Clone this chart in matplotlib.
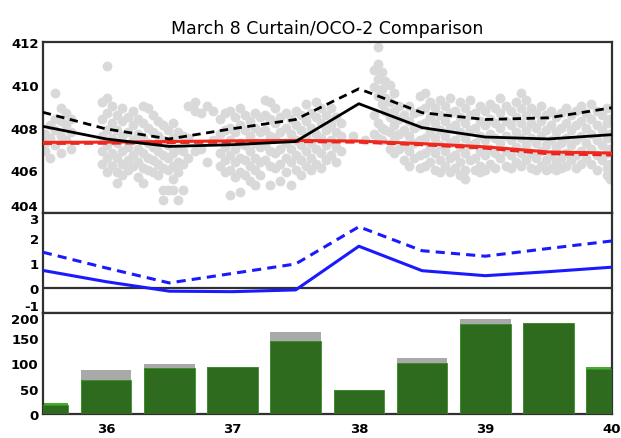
import matplotlib
matplotlib.use("Agg")
import matplotlib.pyplot as plt
import numpy as np

# bin centres (latitude)
lat_bins = [35.5, 36.0, 36.5, 37.0, 37.5, 38.0, 38.5, 39.0, 39.5, 40.0]

# top panel: XCO2 (ppm)
curtain_solid = [408.06, 407.47, 407.12, 407.20, 407.35, 409.12, 408.00, 407.56, 407.47, 407.67]
curtain_dash = [408.72, 407.94, 407.47, 407.95, 408.38, 409.82, 408.70, 408.38, 408.46, 408.93]
oco2_solid = [407.31, 407.32, 407.35, 407.38, 407.40, 407.37, 407.25, 407.10, 406.86, 406.81]
oco2_dash = [407.26, 407.27, 407.30, 407.33, 407.35, 407.32, 407.20, 407.04, 406.78, 406.72]

# middle panel: difference
diff_solid = [0.70, 0.25, -0.13, -0.15, -0.08, 1.67, 0.69, 0.49, 0.65, 0.83]
diff_dash = [1.43, 0.80, 0.20, 0.58, 0.96, 2.45, 1.49, 1.27, 1.58, 1.88]

# bottom panel: sounding counts
count_total = [22, 86, 98, 93, 163, 48, 110, 188, 179, 92]
count_edge = [22, 68, 91, 93, 145, 48, 101, 177, 179, 92]
count_good = [18, 68, 91, 93, 145, 48, 101, 177, 179, 88]

# individual OCO-2 soundings, as (lat, [xco2 ...]) columns
obs_west = [
    (35.52, [407.3, 407.7, 406.9]),
    (35.56, [408.1, 407.5, 406.6]),
    (35.60, [409.6, 408.4, 407.9, 407.2]),
    (35.64, [408.9, 408.3, 407.6, 406.8]),
    (35.68, [408.7, 408.1, 407.4]),
    (35.72, [408.4, 407.8, 407.0]),
    (35.97, [409.2, 408.4, 407.6, 406.9, 406.3]),
    (36.01, [410.9, 409.4, 408.7, 407.9, 407.2, 406.6, 405.9]),
    (36.05, [409.0, 408.2, 407.5, 406.8, 406.2]),
    (36.09, [408.6, 407.9, 407.3, 406.6, 405.9, 405.4]),
    (36.13, [408.9, 408.3, 407.6, 406.9, 406.3, 405.8]),
    (36.17, [408.5, 407.8, 407.1, 406.5, 406.0]),
    (36.21, [408.8, 408.1, 407.4, 406.7, 406.2]),
    (36.25, [408.4, 407.7, 407.0, 406.4, 405.7]),
    (36.29, [409.0, 408.2, 407.5, 406.8, 406.1, 405.4]),
    (36.33, [408.9, 408.0, 407.3, 406.6, 406.0]),
    (36.37, [408.6, 407.8, 407.1, 406.5, 405.9]),
    (36.41, [408.3, 407.6, 406.9, 406.3, 405.8]),
    (36.45, [408.1, 407.4, 406.7, 406.1, 405.1, 404.6]),
    (36.49, [407.9, 407.2, 406.6, 406.0, 405.1]),
    (36.53, [408.2, 407.5, 406.8, 406.2, 405.6, 405.1]),
    (36.57, [407.8, 407.0, 406.4, 405.9, 404.6]),
    (36.61, [407.6, 406.9, 406.3, 405.1]),
    (36.65, [409.0, 407.5, 406.6]),
    (36.70, [409.2, 408.8, 406.9]),
    (36.75, [408.7, 407.0]),
    (36.80, [409.0, 406.4]),
    (36.85, [408.8, 407.4]),
]

obs_mid = [
    (36.90, [408.4, 407.7, 406.8, 406.2]),
    (36.94, [408.7, 407.9, 407.1, 406.5, 405.9]),
    (36.98, [408.8, 408.0, 407.4, 406.7, 406.0, 404.85]),
    (37.02, [408.5, 407.8, 407.0, 406.4, 405.7]),
    (37.06, [408.9, 408.1, 407.3, 406.6, 405.9, 405.0]),
    (37.10, [408.6, 407.9, 407.2, 406.5, 405.8]),
    (37.14, [408.3, 407.6, 406.9, 406.2, 405.5]),
    (37.18, [408.7, 408.0, 407.3, 406.6, 406.0, 405.3]),
    (37.22, [408.5, 407.8, 407.1, 406.4, 405.8]),
    (37.26, [409.3, 408.6, 407.9, 407.2, 406.5]),
    (37.30, [409.2, 408.4, 407.6, 406.9, 406.2, 405.3]),
    (37.34, [408.9, 408.2, 407.5, 406.8, 406.1]),
    (37.38, [408.5, 407.8, 407.0, 406.3, 405.5]),
    (37.42, [408.7, 408.0, 407.3, 406.6, 405.9]),
    (37.46, [408.4, 407.7, 407.0, 406.4, 405.3]),
    (37.50, [408.8, 408.1, 407.4, 406.7, 406.0]),
    (37.54, [408.6, 407.9, 407.2, 406.5, 405.8]),
    (37.58, [409.1, 408.3, 407.6, 406.9, 406.2]),
    (37.62, [408.7, 408.0, 407.3, 406.6, 406.0]),
    (37.66, [409.2, 408.5, 407.7, 407.0, 406.3]),
    (37.70, [408.9, 408.2, 407.5, 406.8, 406.1]),
    (37.74, [408.6, 407.9, 407.2, 406.5]),
    (37.78, [408.9, 408.1, 407.4, 406.7]),
    (37.82, [408.5, 407.8, 407.1, 406.4]),
    (37.86, [408.2, 407.6, 406.9]),
    (37.95, [407.6]),
    (38.05, [407.4]),
    (38.12, [410.7, 409.9, 408.6, 407.7]),
    (38.15, [411.8, 411.0, 410.3, 409.5, 408.2, 407.5]),
    (38.18, [410.6, 409.8, 409.1, 408.0, 407.4]),
    (38.21, [410.2, 409.4, 408.8, 407.9]),
    (38.25, [410.0, 409.2, 408.5, 407.8, 407.0]),
    (38.28, [409.6, 408.8, 408.1, 407.4, 406.8]),
    (38.32, [409.0, 408.4, 407.7, 407.0]),
]

obs_east = [
    (38.36, [408.6, 407.9, 407.2, 406.5]),
    (38.40, [409.0, 408.3, 407.6, 406.9, 406.2]),
    (38.44, [408.7, 408.0, 407.3, 406.6]),
    (38.48, [409.5, 408.8, 408.1, 407.4, 406.7, 406.1]),
    (38.52, [409.6, 408.9, 408.2, 407.5, 406.8, 406.2]),
    (38.56, [409.2, 408.5, 407.8, 407.1, 406.4]),
    (38.60, [408.9, 408.2, 407.5, 406.8, 406.0]),
    (38.64, [409.3, 408.6, 407.9, 407.2, 406.5, 405.9]),
    (38.68, [409.0, 408.3, 407.6, 406.9, 406.2]),
    (38.72, [409.4, 408.7, 408.0, 407.3, 406.6, 405.9]),
    (38.76, [408.8, 408.1, 407.4, 406.7, 406.1]),
    (38.80, [409.2, 408.5, 407.8, 407.1, 406.4, 405.8]),
    (38.84, [408.9, 408.2, 407.5, 406.8, 406.0, 405.6]),
    (38.88, [409.3, 408.6, 407.9, 407.2, 406.5]),
    (38.92, [408.7, 408.0, 407.3, 406.6, 406.0]),
    (38.96, [409.0, 408.3, 407.6, 406.9, 406.2, 405.9]),
    (39.00, [408.8, 408.1, 407.4, 406.7, 406.0]),
    (39.04, [409.1, 408.4, 407.7, 407.0, 406.3]),
    (39.08, [408.9, 408.2, 407.5, 406.8, 406.1]),
    (39.12, [409.4, 408.7, 408.0, 407.3, 406.6]),
    (39.16, [409.0, 408.3, 407.6, 406.9, 406.2]),
    (39.20, [408.8, 408.1, 407.4, 406.7, 406.1]),
    (39.24, [409.2, 408.5, 407.8, 407.1, 406.4]),
    (39.28, [409.6, 408.9, 408.2, 407.5, 406.8, 406.2]),
    (39.32, [409.3, 408.6, 407.9, 407.2, 406.5]),
    (39.36, [408.9, 408.2, 407.5, 406.8, 406.1]),
    (39.40, [408.7, 408.0, 407.3, 406.6, 406.0]),
    (39.44, [409.0, 408.3, 407.6, 406.9, 406.2]),
    (39.48, [408.6, 407.9, 407.2, 406.5, 406.0]),
    (39.52, [408.8, 408.1, 407.4, 406.7, 406.1]),
    (39.56, [408.5, 407.8, 407.1, 406.4, 406.0]),
    (39.60, [408.7, 408.0, 407.3, 406.6, 406.1]),
    (39.64, [408.9, 408.2, 407.5, 406.8, 406.2]),
    (39.68, [408.6, 407.9, 407.2, 406.5]),
    (39.72, [408.8, 408.1, 407.4, 406.7, 406.1]),
    (39.76, [409.0, 408.3, 407.6, 406.9, 406.3]),
    (39.80, [408.7, 408.0, 407.3, 406.6]),
    (39.84, [409.1, 408.4, 407.7, 407.0, 406.3]),
    (39.88, [408.8, 408.1, 407.4, 406.7, 406.0]),
    (39.92, [408.6, 407.9, 407.2, 406.5]),
    (39.96, [408.9, 408.2, 407.5, 406.8, 406.1, 405.8]),
    (39.99, [408.4, 407.7, 407.0, 406.3, 405.6]),
]

x_ticks = [36, 37, 38, 39, 40]

obs_x, obs_y = [], []
for lat, vals in obs_west + obs_mid + obs_east:
    obs_x += [lat] * len(vals)
    obs_y += vals

fig = plt.figure(figsize=(6.21, 4.39), dpi=100)
left, width = 0.069, 0.916
ax1 = fig.add_axes([left, 0.5125, width, 0.389])
ax2 = fig.add_axes([left, 0.285, width, 0.2275])
ax3 = fig.add_axes([left, 0.055, width, 0.23])

spine_col = "#303030"
for ax in (ax1, ax2, ax3):
    ax.set_xlim(35.5, 40.0)
    for s in ax.spines.values():
        s.set_linewidth(1.6)
        s.set_color(spine_col)
    ax.tick_params(length=0, labelsize=9.5, pad=3)

# top panel
ax1.scatter(obs_x, obs_y, s=50, color="#d9d9d9", linewidths=0, zorder=1)
ax1.plot(lat_bins, oco2_dash, color="#e8231c", lw=2.2, ls=(0, (3, 1.5)), zorder=3)
ax1.plot(lat_bins, oco2_solid, color="#f0281e", lw=2.2, zorder=3)
ax1.plot(lat_bins, curtain_dash, color="black", lw=2.0, ls=(0, (3, 2)), zorder=4)
ax1.plot(lat_bins, curtain_solid, color="black", lw=2.0, zorder=4)
ax1.set_ylim(404, 412)
ax1.set_yticks([404, 406, 408, 410, 412])
ax1.set_xticks([])
ax1.set_title("March 8 Curtain/OCO-2 Comparison", fontsize=12.5, pad=7)

# middle panel
ax2.axhline(0, color=spine_col, lw=1.6, zorder=1)
ax2.plot(lat_bins, diff_dash, color="#1a1aff", lw=2.2, ls=(0, (3, 2)), zorder=3)
ax2.plot(lat_bins, diff_solid, color="#1a1aff", lw=2.2, zorder=3)
ax2.set_ylim(-1, 3)
ax2.set_yticks([-1, 0, 1, 2, 3])
ax2.set_yticklabels(["-1", "0", "1", "2", "3"])
ax2.set_xticks([])

# bottom panel
ax3.bar(lat_bins, count_total, width=0.4, color="#a9a9a9", zorder=1)
ax3.bar(lat_bins, count_edge, width=0.4, color="#3fae2a", zorder=2)
ax3.bar(lat_bins, count_good, width=0.4, color="#2e6b1f", edgecolor="#3c8f2a",
        linewidth=0.6, zorder=3)
ax3.set_ylim(0, 200)
ax3.set_yticks([0, 50, 100, 150, 200])
ax3.set_xticks(x_ticks)
ax3.set_xticklabels([str(t) for t in x_ticks], fontweight="bold")
ax3.tick_params(axis="x", pad=6)

fig.canvas.draw()
for ax in (ax1, ax2, ax3):
    for lab in ax.get_yticklabels():
        lab.set_fontweight("bold")

# labels at the shared panel edges sit just above / below the divider
labs1 = ax1.get_yticklabels()
labs2 = ax2.get_yticklabels()
labs3 = ax3.get_yticklabels()
labs1[0].set_va("bottom")
labs2[-1].set_va("top")
labs2[0].set_va("bottom")
labs3[-1].set_va("top")

fig.savefig("out.png", dpi=100)
